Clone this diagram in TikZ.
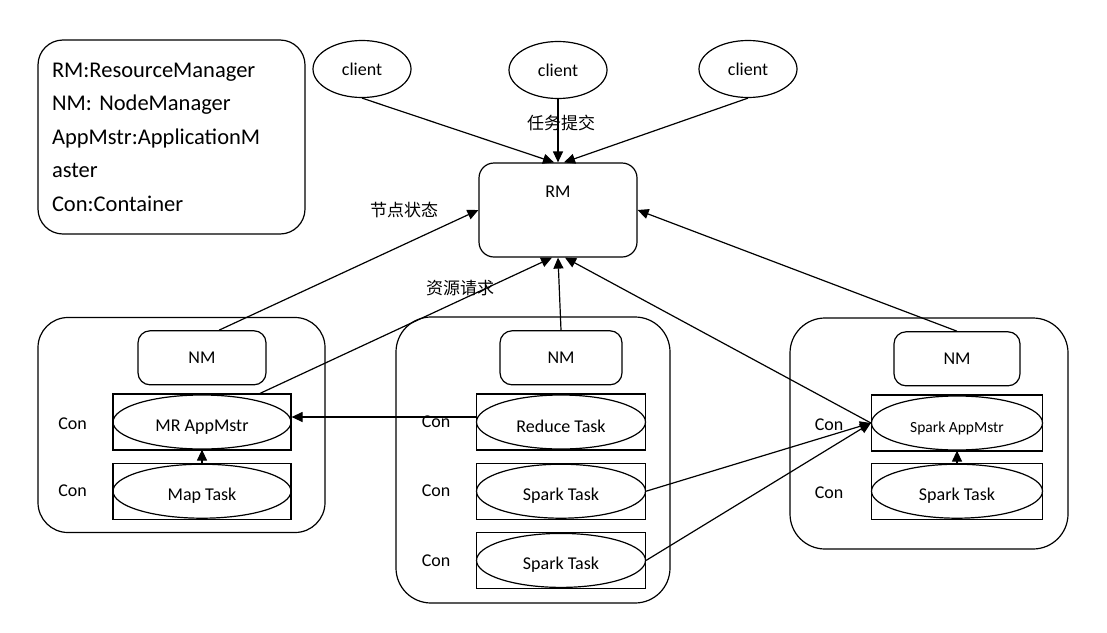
\documentclass[tikz,border=0pt]{standalone}
\usepackage{fontspec}
\setmainfont{Carlito}
\newfontfamily\cjk{Noto Sans CJK SC}
\usepackage{tikz}
\usetikzlibrary{positioning, shapes.geometric, arrows.meta}
\tikzstyle{arrow} = [line width=1.2pt,->,>={Triangle[length=11pt,width=10pt]}]
\tikzstyle{line} = [line width=1.2pt]
\tikzstyle{box} = [rectangle, draw, line width=1.2pt, rounded corners=12pt, font=\fontsize{18}{22}\selectfont]
\tikzstyle{con} = [rectangle, draw, line width=1.2pt, minimum height=56pt]
\tikzstyle{task} = [ellipse, draw, line width=1.2pt, minimum height=54pt, inner sep=0pt, text height=22pt, font=\fontsize{18}{22}\selectfont]
\tikzstyle{client} = [ellipse, draw, line width=1.2pt, minimum width=98pt, minimum height=57pt, font=\fontsize{18}{22}\selectfont]
\tikzstyle{conlabel} = [font=\fontsize{18}{22}\selectfont]
\tikzstyle{cn} = [font=\fontsize{17}{20}\selectfont\cjk]

\begin{document}
\begin{tikzpicture}[x=1pt, y=-1pt]
\useasboundingbox (0,0) rectangle (1107,632);

% legend
\node [box, rounded corners=25pt, minimum width=267pt, minimum height=194pt, text width=239pt, inner xsep=14pt, align=left, font=\fontsize{22.5}{33.5}\selectfont] (legend) at (171.5,137) {RM:ResourceManager\\NM: NodeManager\\AppMstr:ApplicationM\\aster\\Con:Container};

% clients and RM
\node [client] (c1) at (362,69) {client};
\node [client] (c2) at (558,70) {client};
\node [client] (c3) at (748,69) {client};
\node [box, rounded corners=15pt, minimum width=158pt, minimum height=94pt, text depth=36pt] (rm) at (558,210) {RM};

% three nodes
\node [box, rounded corners=30pt, minimum width=287pt, minimum height=215pt] (host1) at (181.5,425) {};
\node [box, rounded corners=35pt, minimum width=274pt, minimum height=286pt] (host2) at (533,460) {};
\node [box, rounded corners=35pt, minimum width=278pt, minimum height=231pt] (host3) at (929,433.5) {};

% left node
\node [con, minimum width=178pt] (mrbox) at (202,422) {};
\node [con, minimum width=178pt] (mapbox) [below=12pt of mrbox] {};
\node [task, minimum width=178pt] (mr) at (mrbox) {MR AppMstr};
\node [task, minimum width=178pt] (map) at (mapbox) {Map Task};
\node [box, minimum width=128pt, minimum height=54pt] (nm1) [above=8pt of mrbox] {NM};
\node [conlabel] (con11) [left=22pt of mrbox, yshift=-2pt] {Con};
\node [conlabel] (con12) [left=22pt of mapbox] {Con};

% middle node
\node [con, minimum width=169pt] (reducebox) at (561,422) {};
\node [con, minimum width=169pt] (spark1box) [below=12pt of reducebox] {};
\node [con, minimum width=169pt] (spark2box) [below=12pt of spark1box] {};
\node [task, minimum width=169pt] (reduce) at (reducebox) {Reduce Task};
\node [task, minimum width=169pt] (spark1) at (spark1box) {Spark Task};
\node [task, minimum width=169pt] (spark2) at (spark2box) {Spark Task};
\node [box, minimum width=122pt, minimum height=54pt] (nm2) [above=8pt of reducebox] {NM};
\node [conlabel] (con21) [left=22pt of reducebox] {Con};
\node [conlabel] (con22) [left=22pt of spark1box] {Con};
\node [conlabel] (con23) [left=22pt of spark2box] {Con};

% right node
\node [con, minimum width=171pt] (sambox) at (957,423) {};
\node [con, minimum width=171pt] (spark3box) [below=11pt of sambox] {};
\node [task, minimum width=171pt, font=\fontsize{15.5}{18}\selectfont] (sam) at (sambox) {Spark AppMstr};
\node [task, minimum width=171pt] (spark3) at (spark3box) {Spark Task};
\node [box, minimum width=126pt, minimum height=54pt] (nm3) [above=8pt of sambox] {NM};
\node [conlabel] (con31) [left=24pt of sambox, yshift=-2pt] {Con};
\node [conlabel] (con32) [left=24pt of spark3box, yshift=-2pt] {Con};

% labels
\node [cn] (submit) at (561,123) {任务提交};
\node [cn] (status) at (404,210) {节点状态};
\node [cn] (request) at (460,288) {资源请求};

% edges
\draw [arrow] (c1.south) -- ([xshift=-4pt]rm.north);
\draw [arrow] (c2.south) -- (rm.north);
\draw [arrow] (c3.south) -- ([xshift=6pt]rm.north);

\draw [arrow] ([xshift=17pt]nm1.north) -- (rm.west);
\draw [arrow] ([xshift=58pt]mrbox.north) -- ([xshift=-6pt]rm.south);
\draw [arrow] (nm2.north) -- (rm.south);
\draw [arrow] (sam.west) -- ([xshift=7pt]rm.south);
\draw [arrow] (nm3.north) -- (rm.east);

\draw [arrow] ([yshift=5pt]reduce.west) -- ([yshift=5pt]mr.east);
\draw [arrow] (map.north) -- (mr.south);
\draw [arrow] (spark1.east) -- (sam.west);
\draw [arrow] (spark2.east) -- (sam.west);
\draw [arrow] (spark3.north) -- (sam.south);
\end{tikzpicture}
\end{document}
